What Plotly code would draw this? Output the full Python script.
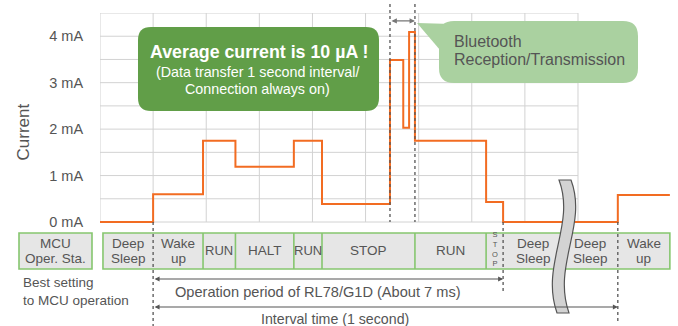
import plotly.graph_objects as go

# ---- data -------------------------------------------------------------
# Supply current of the MCU over one cycle (time axis in grid divisions)
t_edges = [0, 1.0, 1.94, 2.55, 3.65, 4.18, 5.46, 5.71, 5.82, 5.93, 7.27, 7.59, 9.75, 10.73]
current_ma = [0, 0.60, 1.75, 1.19, 1.75, 0.39, 3.49, 2.03, 4.09, 1.75, 0.43, 0, 0.58, 0.58]

y_tick_vals = [0, 1, 2, 3, 4]
y_tick_text = ["0 mA", "1 mA", "2 mA", "3 mA", "4 mA"]

# MCU operating states and their time boundaries
state_names = ["Deep Sleep", "Wake up", "RUN", "HALT", "RUN", "STOP", "RUN", "STOP",
               "Deep Sleep", "Deep Sleep", "Wake up"]
state_bounds = [0.056, 1.0, 1.94, 2.55, 3.65, 4.18, 5.93, 7.27, 7.59, 8.72, 9.75, 10.73]

ble_start, ble_end = 5.46, 5.93        # Bluetooth reception / transmission
op_start, op_end = 1.0, 7.59           # RL78/G1D operation period
next_wake = 9.75                       # start of the next interval
time_break = 8.72                      # axis break (time skipped)

grid_x = list(range(0, 10))
grid_y = [i * 0.5 for i in range(10)]

# ---- geometry ---------------------------------------------------------
W, H = 678, 326
ML, MR, MT, MB = 100, 0, 13, 100
PW, PH = W - ML - MR, H - MT - MB
X_UNIT = 53.11      # px per grid division
Y_UNIT = 46.44      # px per mA
Y_LOW = -(H - MB - 222) / Y_UNIT


def px(x):
    return (x - ML) / PW


def py(y):
    return (H - MB - y) / PH


TXT = "#555555"
GRID = "#d2d2d2"
ORANGE = "#f26c22"
DARK_GREEN = "#619e48"
LIGHT_GREEN = "#aad1a0"
BAR_FILL = "#e6e6e6"
BAR_LINE = "#86c66f"
FONT = "Liberation Sans, Arial, sans-serif"

fig = go.Figure()

fig.add_trace(go.Scatter(
    x=t_edges, y=current_ma, mode="lines", line_shape="hv",
    line=dict(color=ORANGE, width=2), hoverinfo="skip", showlegend=False,
))

shapes = []

# grid covering the first nine divisions
for gx in grid_x:
    shapes.append(dict(type="line", xref="x", yref="y", x0=gx, x1=gx, y0=0, y1=grid_y[-1],
                       line=dict(color=GRID, width=1), layer="below"))
for gy in grid_y:
    shapes.append(dict(type="line", xref="x", yref="y", x0=grid_x[0], x1=grid_x[-1], y0=gy, y1=gy,
                       line=dict(color=GRID, width=1), layer="below"))


def rounded_rect(x0, y0, x1, y1, r):
    pts = [
        ("M", [(x0 + r, y0)]), ("L", [(x1 - r, y0)]), ("Q", [(x1, y0), (x1, y0 + r)]),
        ("L", [(x1, y1 - r)]), ("Q", [(x1, y1), (x1 - r, y1)]), ("L", [(x0 + r, y1)]),
        ("Q", [(x0, y1), (x0, y1 - r)]), ("L", [(x0, y0 + r)]), ("Q", [(x0, y0), (x0 + r, y0)]),
    ]
    out = []
    for cmd, ps in pts:
        out.append(cmd + " ".join(f"{px(a):.5f},{py(b):.5f}" for a, b in ps))
    return " ".join(out) + " Z"


def poly(points):
    return "M" + " L".join(f"{px(a):.5f},{py(b):.5f}" for a, b in points) + " Z"


# callouts
shapes.append(dict(type="path", xref="paper", yref="paper", path=rounded_rect(138, 27, 379, 111, 13),
                   fillcolor=DARK_GREEN, line=dict(width=0), layer="above"))
shapes.append(dict(type="path", xref="paper", yref="paper", path=poly([(417, 23), (452, 24), (446, 57)]),
                   fillcolor=LIGHT_GREEN, line=dict(width=0), layer="above"))
shapes.append(dict(type="path", xref="paper", yref="paper", path=rounded_rect(439, 21, 638, 83, 15),
                   fillcolor=LIGHT_GREEN, line=dict(width=0), layer="above"))

# state bar
BAR_T, BAR_B = 233, 269
shapes.append(dict(type="rect", xref="paper", yref="paper", x0=px(19), x1=px(92), y0=py(BAR_T), y1=py(BAR_B),
                   fillcolor=BAR_FILL, line=dict(color=BAR_LINE, width=1.6), layer="above"))
shapes.append(dict(type="rect", xref="x", yref="paper", x0=state_bounds[0], x1=state_bounds[-1],
                   y0=py(BAR_T), y1=py(BAR_B),
                   fillcolor=BAR_FILL, line=dict(color=BAR_LINE, width=1.6), layer="above"))
event_marks = {op_start, op_end, next_wake}
for b in state_bounds[1:-1]:
    if b in event_marks or b == time_break:
        continue
    shapes.append(dict(type="line", xref="x", yref="paper", x0=b, x1=b, y0=py(BAR_T), y1=py(BAR_B),
                       line=dict(color=BAR_LINE, width=1.6), layer="above"))

# dashed event markers
DASH = dict(color="#555555", width=1.3, dash="3px,3px")
for t, top, bot in [(ble_start, 4, 222), (ble_end, 4, 222), (op_start, 222, 326),
                    (op_end, 222, 291), (next_wake, 222, 323)]:
    shapes.append(dict(type="line", xref="x", yref="paper", x0=t, x1=t, y0=py(top), y1=py(bot),
                       line=DASH, layer="above"))

# axis break symbol
brk = ("M{:.5f},{:.5f} C{:.5f},{:.5f} {:.5f},{:.5f} {:.5f},{:.5f} L{:.5f},{:.5f} "
       "C{:.5f},{:.5f} {:.5f},{:.5f} {:.5f},{:.5f} Z").format(
    px(559), py(180), px(576), py(225), px(540), py(265), px(557), py(313),
    px(569), py(313), px(552), py(265), px(588), py(225), px(571), py(180))
shapes.append(dict(type="path", xref="paper", yref="paper", path=brk, fillcolor="#d3d3d3",
                   line=dict(color="#555555", width=1.2), layer="above"))

annotations = []


def text(s, x, y, size=14, color=TXT, xanchor="center", xref="paper", angle=0, align="center"):
    annotations.append(dict(text=s, x=px(x) if xref == "paper" else x, y=py(y), xref=xref, yref="paper",
                            xanchor=xanchor, yanchor="middle", showarrow=False, textangle=angle,
                            align=align, font=dict(size=size, color=color, family=FONT)))


text("Current", 22.5, 132, size=17, angle=-90)
text("<b>Average current is 10 µA !</b>", 258.5, 52, size=17.8, color="white")
text("(Data transfer 1 second interval/", 257, 72, size=14.3, color="white")
text("Connection always on)", 257, 89, size=14.3, color="white")
text("Bluetooth", 452, 42, size=16, xanchor="left")
text("Reception/Transmission", 452, 59, size=16, xanchor="left")
text("MCU", 55.5, 244, size=13.5)
text("Oper. Sta.", 55.5, 258, size=13.5)

for name, a, b in zip(state_names, state_bounds[:-1], state_bounds[1:]):
    mid = (a + b) / 2
    words = name.split(" ")
    if (b - a) < 0.4:           # narrow cell: letters stacked vertically
        text("<br>".join(name), mid, 249, size=7.5, xref="x")
    elif len(words) == 2:
        text(words[0], mid, 244, size=13.5, xref="x")
        text(words[1], mid, 258, size=13.5, xref="x")
    else:
        text(name, mid, 251, size=13 if (b - a) < 0.7 else 13.5, xref="x")

text("Best setting<br>to MCU operation", 21, 291.5, size=13.5, xanchor="left", align="left")
text("Operation period of RL78/G1D (About 7 ms)", 318, 292, size=14.6)
text("Interval time (1 second)", 334.5, 319, size=14.2)

# arrows
annotations.append(dict(x=ble_end, y=4.33, ax=ble_start, ay=4.33, xref="x", yref="y", axref="x", ayref="y",
                        text="", showarrow=True, arrowside="end+start", arrowhead=2, arrowsize=0.9,
                        arrowwidth=1.2, arrowcolor="#777777", standoff=0, startstandoff=0))
for t_end, yy in [(op_end, 279), (next_wake, 307)]:
    annotations.append(dict(x=t_end, y=py(yy), ax=op_start, ay=0, xref="x", yref="paper",
                            axref="x", ayref="pixel", text="", showarrow=True, arrowside="end+start",
                            arrowhead=2, arrowsize=0.9, arrowwidth=1.1, arrowcolor="#555555",
                            standoff=0, startstandoff=0))

fig.update_layout(
    width=W, height=H, margin=dict(l=ML, r=MR, t=MT, b=MB, pad=0),
    paper_bgcolor="white", plot_bgcolor="white", showlegend=False,
    font=dict(family=FONT, color=TXT),
    xaxis=dict(range=[0, PW / X_UNIT], visible=False, showgrid=False, zeroline=False, fixedrange=True),
    yaxis=dict(range=[Y_LOW, 4.5], showgrid=False, zeroline=False, showline=False,
               tickvals=y_tick_vals, ticktext=y_tick_text, ticks="outside", ticklen=13,
               tickcolor="rgba(0,0,0,0)", tickfont=dict(size=14.5, color=TXT, family=FONT),
               fixedrange=True),
    shapes=shapes, annotations=annotations,
)

fig.write_html("out.html")
